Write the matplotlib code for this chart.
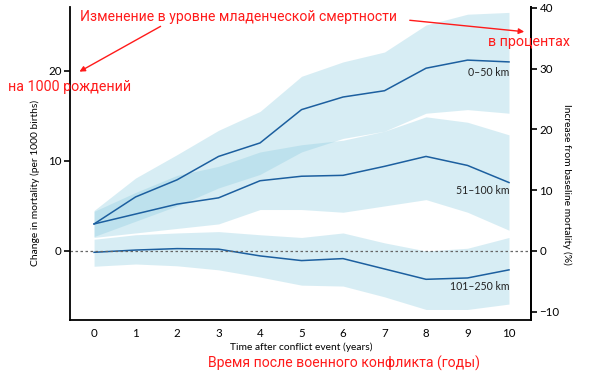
import matplotlib.pyplot as plt
from matplotlib.patches import FancyArrowPatch

plt.rcParams['font.family'] = ['Lato', 'DejaVu Sans']

years = [0, 1, 2, 3, 4, 5, 6, 7, 8, 9, 10]

# 0-50 km
near_mid = [3.0, 6.0, 7.9, 10.5, 12.0, 15.7, 17.1, 17.8, 20.3, 21.2, 21.0]
near_lo = [1.6, 3.3, 5.0, 7.0, 8.5, 11.0, 12.5, 13.3, 15.3, 15.7, 15.3]
near_hi = [4.5, 8.1, 10.7, 13.4, 15.5, 19.4, 21.0, 22.1, 25.1, 26.3, 26.5]

# 51-100 km
mid_mid = [3.0, 4.1, 5.2, 5.9, 7.8, 8.3, 8.4, 9.4, 10.5, 9.5, 7.6]
mid_lo = [1.5, 2.0, 2.5, 3.0, 4.6, 4.6, 4.3, 5.0, 5.7, 4.3, 2.3]
mid_hi = [4.4, 6.5, 8.4, 9.4, 11.0, 11.8, 12.3, 13.3, 14.9, 14.3, 12.9]

# 101-250 km
far_mid = [-0.15, 0.1, 0.26, 0.2, -0.55, -1.07, -0.85, -2.0, -3.15, -3.0, -2.1]
far_lo = [-1.7, -1.45, -1.65, -2.1, -2.9, -3.8, -3.9, -5.1, -6.5, -6.5, -5.9]
far_hi = [1.3, 1.8, 2.0, 2.15, 1.8, 1.5, 2.0, 0.9, 0.0, 0.3, 1.5]

series_labels = ['0–50 km', '51–100 km', '101–250 km']

band_col = '#8fcde0'
line_col = '#1c5f9f'

fig = plt.figure(figsize=(6, 3.9), dpi=100)
ax = fig.add_axes([70/600, 1-320/390, (531-70)/600, (320-7)/390])

for lo, hi, mid in [(far_lo, far_hi, far_mid), (mid_lo, mid_hi, mid_mid), (near_lo, near_hi, near_mid)]:
    ax.fill_between(years, lo, hi, color=band_col, alpha=0.35, lw=0)
for mid in [near_mid, mid_mid, far_mid]:
    ax.plot(years, mid, color=line_col, lw=1.1)

ax.axhline(0, color='#666666', lw=0.9, ls=(0, (2, 2)))

ymin, ymax = -7.67, 27.1
ax.set_ylim(ymin, ymax)
ax.set_xlim(-0.58, 10.53)
ax.set_xticks(years)
ax.set_yticks([0, 10, 20])
ax.tick_params(axis='x', length=0, labelsize=8.3, pad=6)
ax.tick_params(axis='y', length=4, width=1.2, labelsize=8.3, pad=2)
for s in ['left', 'bottom', 'right']:
    ax.spines[s].set_linewidth(1.3)
ax.spines['top'].set_visible(False)

ax2 = ax.twinx()
k = 9 / 6.075
ax2.set_ylim(ymin * k, ymax * k)
ax2.set_yticks([-10, 0, 10, 20, 30, 40])
ax2.tick_params(axis='y', length=4, width=1.2, labelsize=8.3, pad=2)
ax2.spines['right'].set_linewidth(1.3)
ax2.spines['top'].set_visible(False)
ax2.spines['left'].set_visible(False)
ax2.spines['bottom'].set_visible(False)

# series labels at the right end
for lab, ypix in zip(series_labels, [73, 190, 287]):
    fig.text(509/600, 1-ypix/390, lab, ha='right', va='center', fontsize=7.6, color='#222222')

fig.text(35/600, 1-183/390, 'Change in mortality (per 1000 births)', rotation=90,
         ha='center', va='center', fontsize=7.4)
fig.text(567/600, 1-184/390, 'Increase from baseline mortality (%)', rotation=270,
         ha='center', va='center', fontsize=7.4)
fig.text(301/600, 1-347/390, 'Time after conflict event (years)', ha='center', va='center', fontsize=7.4)

# red annotations
red = '#ff1a1a'
rfont = ['Roboto', 'DejaVu Sans']
fig.text(80/600, 1-17/390, 'Изменение в уровне младенческой смертности', color=red,
         ha='left', va='center', fontsize=10.1, family=rfont)
fig.text(8/600, 1-87/390, 'на 1000 рождений', color=red, ha='left', va='center',
         fontsize=10.3, family=rfont)
fig.text(488/600, 1-42/390, 'в процентах', color=red, ha='left', va='center',
         fontsize=10.3, family=rfont)
fig.text(208/600, 1-363/390, 'Время после военного конфликта (годы)', color=red, ha='left',
         va='center', fontsize=10.1, family=rfont)

arrow = dict(arrowstyle='-|>', color=red, lw=1.0, mutation_scale=8)
fig.add_artist(FancyArrowPatch((163/600, 1-25/390), (77/600, 1-73/390),
                               transform=fig.transFigure, **arrow))
fig.add_artist(FancyArrowPatch((407/600, 1-20/390), (527/600, 1-32/390),
                               transform=fig.transFigure, **arrow))

fig.savefig('out.png', dpi=100)
